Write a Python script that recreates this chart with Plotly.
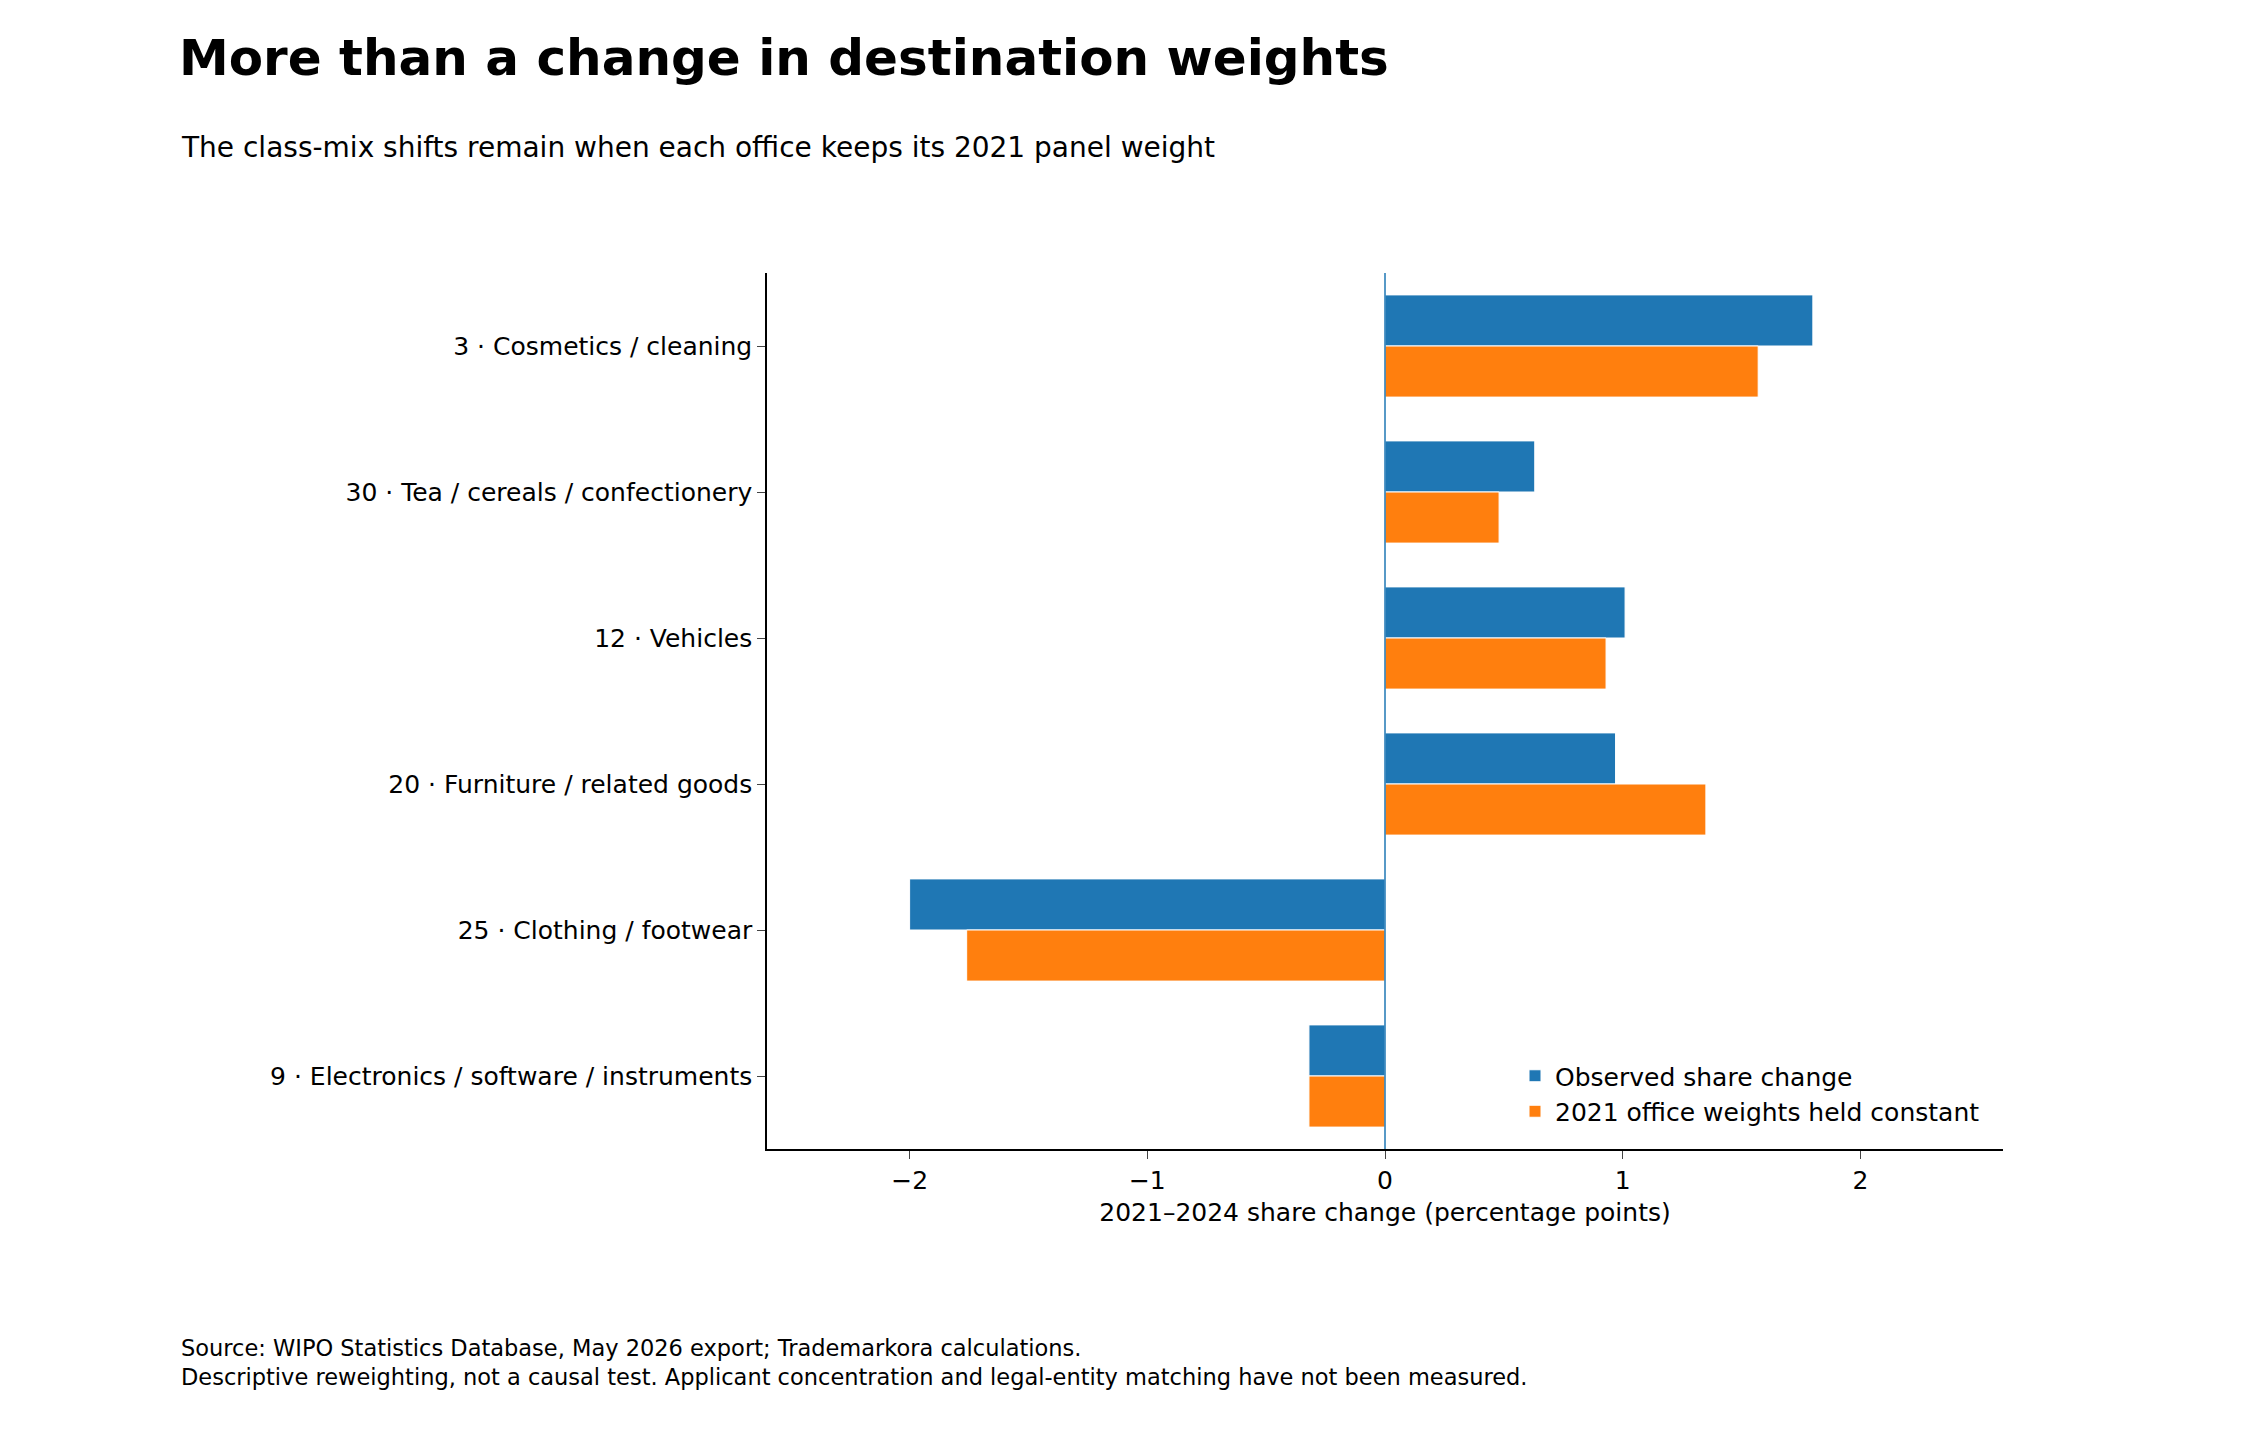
import plotly.graph_objects as go

categories = ["3 · Cosmetics / cleaning", "30 · Tea / cereals / confectionery", "12 · Vehicles",
              "20 · Furniture / related goods", "25 · Clothing / footwear",
              "9 · Electronics / software / instruments"]
observed = [1.80, 0.63, 1.01, 0.97, -2.00, -0.32]
constant = [1.57, 0.48, 0.93, 1.35, -1.76, -0.32]
xticks = [-2, -1, 0, 1, 2]
xticklabels = ["−2", "−1", "0", "1", "2"]

F = "DejaVu Sans"
fig = go.Figure()
fig.add_bar(y=categories, x=observed, orientation="h", name="Observed share change",
            marker=dict(color="#1f77b4", line=dict(color="white", width=1)))
fig.add_bar(y=categories, x=constant, orientation="h", name="2021 office weights held constant",
            marker=dict(color="#ff7f0e", line=dict(color="white", width=1)))

L, R, T, B = 759, 255, 265, 299
H = 1440 - T - B
def py(px):
    return (1440 - B - px) / H
def pxx(px):
    return (px - L) / (2250 - L - R)

fig.update_layout(
    width=2250, height=1440, plot_bgcolor="white", paper_bgcolor="white",
    margin=dict(l=L, r=R, t=T, b=B), barmode="group", bargap=0.3, bargroupgap=0.0,
    font=dict(family=F, size=25, color="black"),
    title=dict(text="<b>More than a change in destination weights</b>", x=171/2250, xanchor="left",
               xref="container", y=1-49/1440, yanchor="middle", yref="container",
               font=dict(size=50, family=F, color="black")),
    legend=dict(x=pxx(1507), y=py(1126), xanchor="left", yanchor="bottom",
                bgcolor="rgba(0,0,0,0)", font=dict(size=25)),
    xaxis=dict(range=[-2.6, 2.6], tickvals=xticks, ticktext=xticklabels, showline=True,
               linecolor="black", linewidth=1.5, ticks="outside", ticklen=8, showgrid=False,
               zeroline=False, title=dict(text="2021–2024 share change (percentage points)",
                                          font=dict(size=25), standoff=10)),
    yaxis=dict(autorange="reversed", showline=True, linecolor="black", linewidth=1.5,
               ticks="outside", ticklen=8, showgrid=False),
    shapes=[dict(type="line", xref="x", yref="paper", x0=0, x1=0, y0=0, y1=1,
                 line=dict(color="#1f77b4", width=1.5))],
    annotations=[
        dict(text="The class-mix shifts remain when each office keeps its 2021 panel weight",
             xref="paper", yref="paper", x=pxx(171), y=py(140), xanchor="left", yanchor="middle",
             showarrow=False, font=dict(size=28)),
        dict(text="Source: WIPO Statistics Database, May 2026 export; Trademarkora calculations.<br>"
                  "Descriptive reweighting, not a causal test. Applicant concentration and legal-entity matching have not been measured.",
             xref="paper", yref="paper", x=pxx(171), y=py(1354), xanchor="left", yanchor="middle",
             align="left", showarrow=False, font=dict(size=22.5)),
    ],
)
fig.write_html("out.html")
